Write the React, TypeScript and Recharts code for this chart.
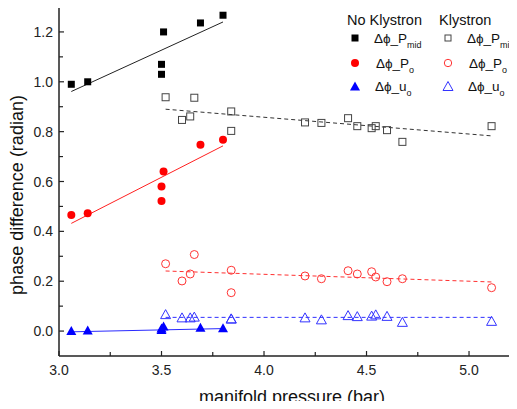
import React from 'react';
import { ComposedChart, Scatter, Line, XAxis, YAxis } from 'recharts';

// ---- data ----
const noKlyPressure = [3.06, 3.14, 3.51, 3.5, 3.5, 3.69, 3.8];
const noKlyPmid = [0.99, 1.0, 1.2, 1.07, 1.03, 1.236, 1.267];
const noKlyPressurePo = [3.06, 3.14, 3.51, 3.5, 3.5, 3.69, 3.8];
const noKlyPo = [0.466, 0.473, 0.64, 0.58, 0.522, 0.747, 0.767];
const noKlyUo = [0.002, 0.004, 0.02, 0.012, 0.006, 0.015, 0.013];

const klyPressure = [3.52, 3.6, 3.64, 3.66, 3.84, 3.84, 4.2, 4.28, 4.41, 4.455, 4.525, 4.545, 4.6, 4.675, 5.11];
const klyPmid = [0.938, 0.847, 0.861, 0.936, 0.881, 0.803, 0.837, 0.835, 0.854, 0.822, 0.814, 0.822, 0.806, 0.759, 0.822];
const klyPo = [0.27, 0.201, 0.229, 0.307, 0.244, 0.154, 0.221, 0.21, 0.242, 0.229, 0.238, 0.217, 0.198, 0.21, 0.174];
const klyUo = [0.068, 0.055, 0.055, 0.058, 0.051, 0.05, 0.055, 0.047, 0.064, 0.06, 0.062, 0.067, 0.061, 0.037, 0.041];

// linear fit end points
const fitNoKlyX = [3.06, 3.8];
const fitNoKlyPmid = [0.961, 1.24];
const fitNoKlyPo = [0.432, 0.743];
const fitNoKlyUo = [-0.003, 0.01];
const fitKlyX = [3.52, 5.11];
const fitKlyPmid = [0.89, 0.783];
const fitKlyPo = [0.241, 0.197];
const fitKlyUo = [0.055, 0.055];

const xTicks = [3.0, 3.25, 3.5, 3.75, 4.0, 4.25, 4.5, 4.75, 5.0];
const xLabelTicks = [3.0, 3.5, 4.0, 4.5, 5.0];
const yTicks = [0, 0.1, 0.2, 0.3, 0.4, 0.5, 0.6, 0.7, 0.8, 0.9, 1.0, 1.1, 1.2];
const yLabelTicks = [0, 0.2, 0.4, 0.6, 0.8, 1.0, 1.2];

const zip = (xs: number[], ys: number[]) => xs.map((x, i) => ({ x, y: ys[i] }));

const FONT = '"Liberation Sans", Arial, sans-serif';
const AXIS = '#222';

const isMajor = (v: number, list: number[]) => list.some((t) => Math.abs(t - v) < 1e-6);

const XTick = (props: any) => {
  const { x, y, payload } = props;
  const major = isMajor(payload.value, xLabelTicks);
  return (
    <g>
      <line x1={x} x2={x} y1={y} y2={y - (major ? 5 : 4)} stroke={AXIS} strokeWidth={1.2} />
      {major && (
        <text x={x} y={y + 19} textAnchor="middle" fontSize={14} fontFamily={FONT} fill="#222">
          {payload.value.toFixed(1)}
        </text>
      )}
    </g>
  );
};

const YTick = (props: any) => {
  const { x, y, payload } = props;
  const major = isMajor(payload.value, yLabelTicks);
  return (
    <g>
      <line x1={x} x2={x + (major ? 5 : 4)} y1={y} y2={y} stroke={AXIS} strokeWidth={1.2} />
      {major && (
        <text x={x - 6} y={y + 5} textAnchor="end" fontSize={14} fontFamily={FONT} fill="#222">
          {payload.value.toFixed(1)}
        </text>
      )}
    </g>
  );
};

const triPath = (cx: number, cy: number, w: number, h: number) =>
  `M${cx - w / 2},${cy + h / 2} L${cx + w / 2},${cy + h / 2} L${cx},${cy - h / 2} Z`;

const FilledSquare = (p: any) => <rect x={p.cx - 3.5} y={p.cy - 3.5} width={7} height={7} fill="#000" />;
const FilledCircle = (p: any) => <circle cx={p.cx} cy={p.cy} r={4} fill="#ff0000" />;
const FilledTri = (p: any) => <path d={triPath(p.cx, p.cy, 10, 9)} fill="#0000ff" />;
const OpenSquare = (p: any) => (
  <rect x={p.cx - 3.5} y={p.cy - 3.5} width={7} height={7} fill="none" stroke="#444" strokeWidth={1} />
);
const OpenCircle = (p: any) => <circle cx={p.cx} cy={p.cy} r={4} fill="none" stroke="#ff3333" strokeWidth={1} />;
const OpenTri = (p: any) => <path d={triPath(p.cx, p.cy, 10, 9)} fill="none" stroke="#3333ff" strokeWidth={1} />;

const LegendLabel = ({ x, y, base, sub }: { x: number; y: number; base: string; sub: string }) => (
  <text x={x} y={y + 5} fontSize={13.5} fontFamily={FONT} fill="#111">
    {base}
    <tspan fontSize={9} dy={5}>{sub}</tspan>
  </text>
);

const LegendOverlay = () => (
  <svg width={517} height={409} style={{ position: 'absolute', left: 0, top: 0, pointerEvents: 'none' }}>
    <text x={347} y={25} fontSize={14.5} fontFamily={FONT} fill="#111">No Klystron</text>
    <text x={439} y={25} fontSize={14.5} fontFamily={FONT} fill="#111">Klystron</text>
    <rect x={351.5} y={34.5} width={7} height={7} fill="#000" />
    <LegendLabel x={374} y={38} base="Δϕ_P" sub="mid" />
    <rect x={445} y={35} width={6} height={6} fill="none" stroke="#444" />
    <LegendLabel x={467} y={38} base="Δϕ_P" sub="mid" />
    <circle cx={355} cy={63} r={4} fill="#ff0000" />
    <LegendLabel x={376} y={63} base="Δϕ_P" sub="o" />
    <circle cx={448} cy={63} r={3.7} fill="none" stroke="#ff3333" />
    <LegendLabel x={469} y={63} base="Δϕ_P" sub="o" />
    <path d={triPath(355, 86, 10, 9)} fill="#0000ff" />
    <LegendLabel x={375} y={86} base="Δϕ_u" sub="o" />
    <path d={triPath(448, 86, 10, 9)} fill="none" stroke="#3333ff" />
    <LegendLabel x={468} y={86} base="Δϕ_u" sub="o" />
  </svg>
);

export default function App() {
  const XDOM: [number, number] = [3.0, 5.234];
  const YDOM: [number, number] = [-0.1, 1.3];
  return (
    <div style={{ position: 'relative', margin: -8, width: 517, height: 409, background: '#fff' }}>
      <ComposedChart width={517} height={409} margin={{ top: 7, right: 0, bottom: 0, left: 0 }}>
        <XAxis
          dataKey="x"
          type="number"
          domain={XDOM}
          ticks={xTicks}
          allowDataOverflow
          height={53}
          tickSize={0}
          tickMargin={0}
          tickLine={false}
          tick={<XTick />}
          axisLine={{ stroke: AXIS, strokeWidth: 1.5 }}
          interval={0}
        />
        <XAxis
          xAxisId="top"
          orientation="top"
          type="number"
          domain={XDOM}
          allowDataOverflow
          height={0}
          tick={false}
          tickLine={false}
          axisLine={{ stroke: AXIS, strokeWidth: 1.5 }}
        />
        <YAxis
          dataKey="y"
          type="number"
          domain={YDOM}
          ticks={yTicks}
          allowDataOverflow
          width={59}
          tickSize={0}
          tickMargin={0}
          tickLine={false}
          tick={<YTick />}
          axisLine={{ stroke: AXIS, strokeWidth: 1.5 }}
          interval={0}
        />
        <Line data={zip(fitNoKlyX, fitNoKlyPmid)} dataKey="y" stroke="#222" strokeWidth={1} dot={false} isAnimationActive={false} />
        <Line data={zip(fitNoKlyX, fitNoKlyPo)} dataKey="y" stroke="#ff2020" strokeWidth={1} dot={false} isAnimationActive={false} />
        <Line data={zip(fitNoKlyX, fitNoKlyUo)} dataKey="y" stroke="#2a2aff" strokeWidth={1} dot={false} isAnimationActive={false} />
        <Line data={zip(fitKlyX, fitKlyPmid)} dataKey="y" stroke="#333" strokeWidth={1} strokeDasharray="4 3" dot={false} isAnimationActive={false} />
        <Line data={zip(fitKlyX, fitKlyPo)} dataKey="y" stroke="#ff3030" strokeWidth={1} strokeDasharray="4 3" dot={false} isAnimationActive={false} />
        <Line data={zip(fitKlyX, fitKlyUo)} dataKey="y" stroke="#3030ff" strokeWidth={1} strokeDasharray="4 3" dot={false} isAnimationActive={false} />
        <Scatter data={zip(noKlyPressure, noKlyPmid)} shape={FilledSquare} isAnimationActive={false} />
        <Scatter data={zip(noKlyPressurePo, noKlyPo)} shape={FilledCircle} isAnimationActive={false} />
        <Scatter data={zip(noKlyPressure, noKlyUo)} shape={FilledTri} isAnimationActive={false} />
        <Scatter data={zip(klyPressure, klyPmid)} shape={OpenSquare} isAnimationActive={false} />
        <Scatter data={zip(klyPressure, klyPo)} shape={OpenCircle} isAnimationActive={false} />
        <Scatter data={zip(klyPressure, klyUo)} shape={OpenTri} isAnimationActive={false} />
        <text x={292} y={403} textAnchor="middle" fontSize={18} fontFamily={FONT} fill="#111">
          manifold pressure (bar)
        </text>
        <text
          x={17}
          y={195}
          textAnchor="middle"
          fontSize={18}
          fontFamily={FONT}
          fill="#111"
          transform="rotate(-90 17 195)"
          dominantBaseline="central"
        >
          phase difference (radian)
        </text>
      </ComposedChart>
      <LegendOverlay />
    </div>
  );
}
